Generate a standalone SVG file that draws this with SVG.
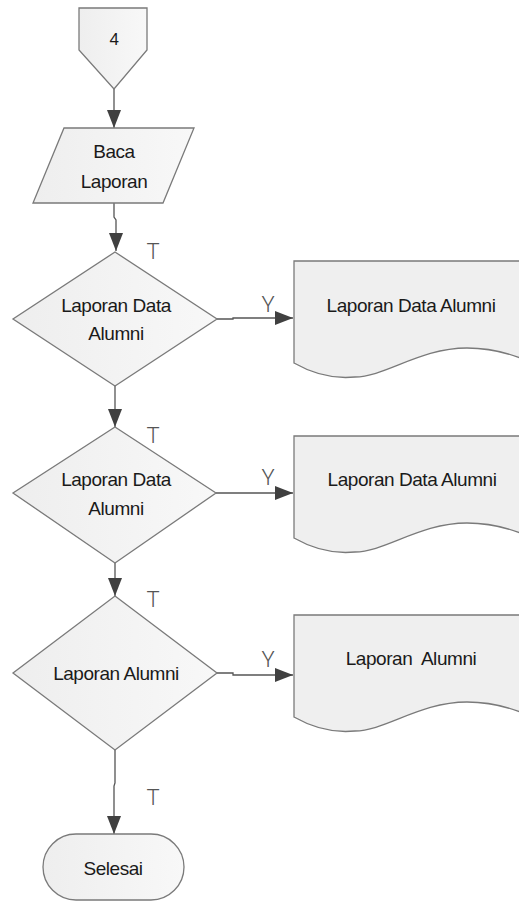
<svg xmlns="http://www.w3.org/2000/svg" width="519" height="901" viewBox="0 0 519 901">
  <defs>
    <linearGradient id="shade" x1="0" y1="0" x2="1" y2="0">
      <stop offset="0" stop-color="#eeeeee"/>
      <stop offset="1" stop-color="#f8f8f8"/>
    </linearGradient>
    <linearGradient id="shadeDoc" gradientUnits="userSpaceOnUse" x1="294" y1="0" x2="519" y2="0">
      <stop offset="0" stop-color="#efefef"/>
      <stop offset="1" stop-color="#fefefe"/>
    </linearGradient>
    <marker id="arrow" viewBox="0 0 18 14" refX="18" refY="7" markerWidth="18" markerHeight="14" markerUnits="userSpaceOnUse" orient="auto">
      <path d="M0,0 L18,7 L0,14 z" fill="#404040"/>
    </marker>
    <!-- document symbol, origin at its top-left corner -->
    <path id="doc" d="M0,0 H236 V101 C216,92 196,87 173,87 C126,87 91,116 61,116 C41,118 21,114 0,102 Z"/>
  </defs>
  <style>
    .shape { fill: url(#shade); stroke: #7a7a7a; stroke-width: 1.3; }
    .docshape { fill: url(#shadeDoc); stroke: #7a7a7a; stroke-width: 1.3; }
    .lbl { font-family: "Liberation Sans", Arial, sans-serif; font-size: 19px; fill: #1a1a1a; text-anchor: middle; letter-spacing: -0.45px; }
    .cond { font-family: Roboto, "Liberation Sans", sans-serif; font-weight: 300; font-size: 22px; fill: #555555; text-anchor: middle; }
    .edge { fill: none; stroke: #555; stroke-width: 1.3; }
  </style>

  <rect width="519" height="901" fill="#ffffff"/>

  <g id="connectors">
    <path class="edge" d="M114,89 V128" marker-end="url(#arrow)"/>
    <path class="edge" d="M114,203 V217 L116,220 V251" marker-end="url(#arrow)"/>
    <path class="edge" d="M217,319 H233 V318 H293" marker-end="url(#arrow)"/>
    <path class="edge" d="M115,386 V427" marker-end="url(#arrow)"/>
    <path class="edge" d="M216,493 H293" marker-end="url(#arrow)"/>
    <path class="edge" d="M115,563 V596" marker-end="url(#arrow)"/>
    <path class="edge" d="M217,673 H233 V675 H293" marker-end="url(#arrow)"/>
    <path class="edge" d="M115,750 V783 L114,786 V834" marker-end="url(#arrow)"/>
    <text class="cond" x="153" y="259">T</text>
    <text class="cond" x="268" y="312">Y</text>
    <text class="cond" x="153" y="443">T</text>
    <text class="cond" x="268" y="485">Y</text>
    <text class="cond" x="153" y="607">T</text>
    <text class="cond" x="268" y="667">Y</text>
    <text class="cond" x="153" y="805">T</text>
  </g>

  <g id="offpage-4">
    <path class="shape" d="M79,8 H147 V50 L114,89 L79,50 Z"/>
    <text class="lbl" x="114" y="45" style="font-size:17px">4</text>
  </g>

  <g id="baca-laporan">
    <path class="shape" d="M64,128 H194 L163,203 H33 Z"/>
    <text class="lbl" x="114" y="158">Baca</text>
    <text class="lbl" x="114" y="188">Laporan</text>
  </g>

  <g id="decision-1">
    <path class="shape" d="M115,252 L217,319 L115,386 L13,319 Z"/>
    <text class="lbl" x="116" y="312">Laporan Data</text>
    <text class="lbl" x="116" y="340">Alumni</text>
  </g>

  <g id="document-1">
    <use href="#doc" class="docshape" x="294" y="261"/>
    <text class="lbl" x="411" y="312">Laporan Data Alumni</text>
  </g>

  <g id="decision-2">
    <path class="shape" d="M115,427 L216,493 L115,563 L13,493 Z"/>
    <text class="lbl" x="116" y="486">Laporan Data</text>
    <text class="lbl" x="116" y="515">Alumni</text>
  </g>

  <g id="document-2">
    <use href="#doc" class="docshape" x="294" y="436"/>
    <text class="lbl" x="412" y="486">Laporan Data Alumni</text>
  </g>

  <g id="decision-3">
    <path class="shape" d="M115,596 L217,673 L115,750 L13,673 Z"/>
    <text class="lbl" x="116" y="680">Laporan Alumni</text>
  </g>

  <g id="document-3">
    <use href="#doc" class="docshape" x="294" y="615"/>
    <text class="lbl" x="411" y="665" style="white-space:pre">Laporan  Alumni</text>
  </g>

  <g id="selesai">
    <rect class="shape" x="43" y="834" width="141" height="66" rx="33" ry="33"/>
    <text class="lbl" x="113" y="875">Selesai</text>
  </g>
</svg>
